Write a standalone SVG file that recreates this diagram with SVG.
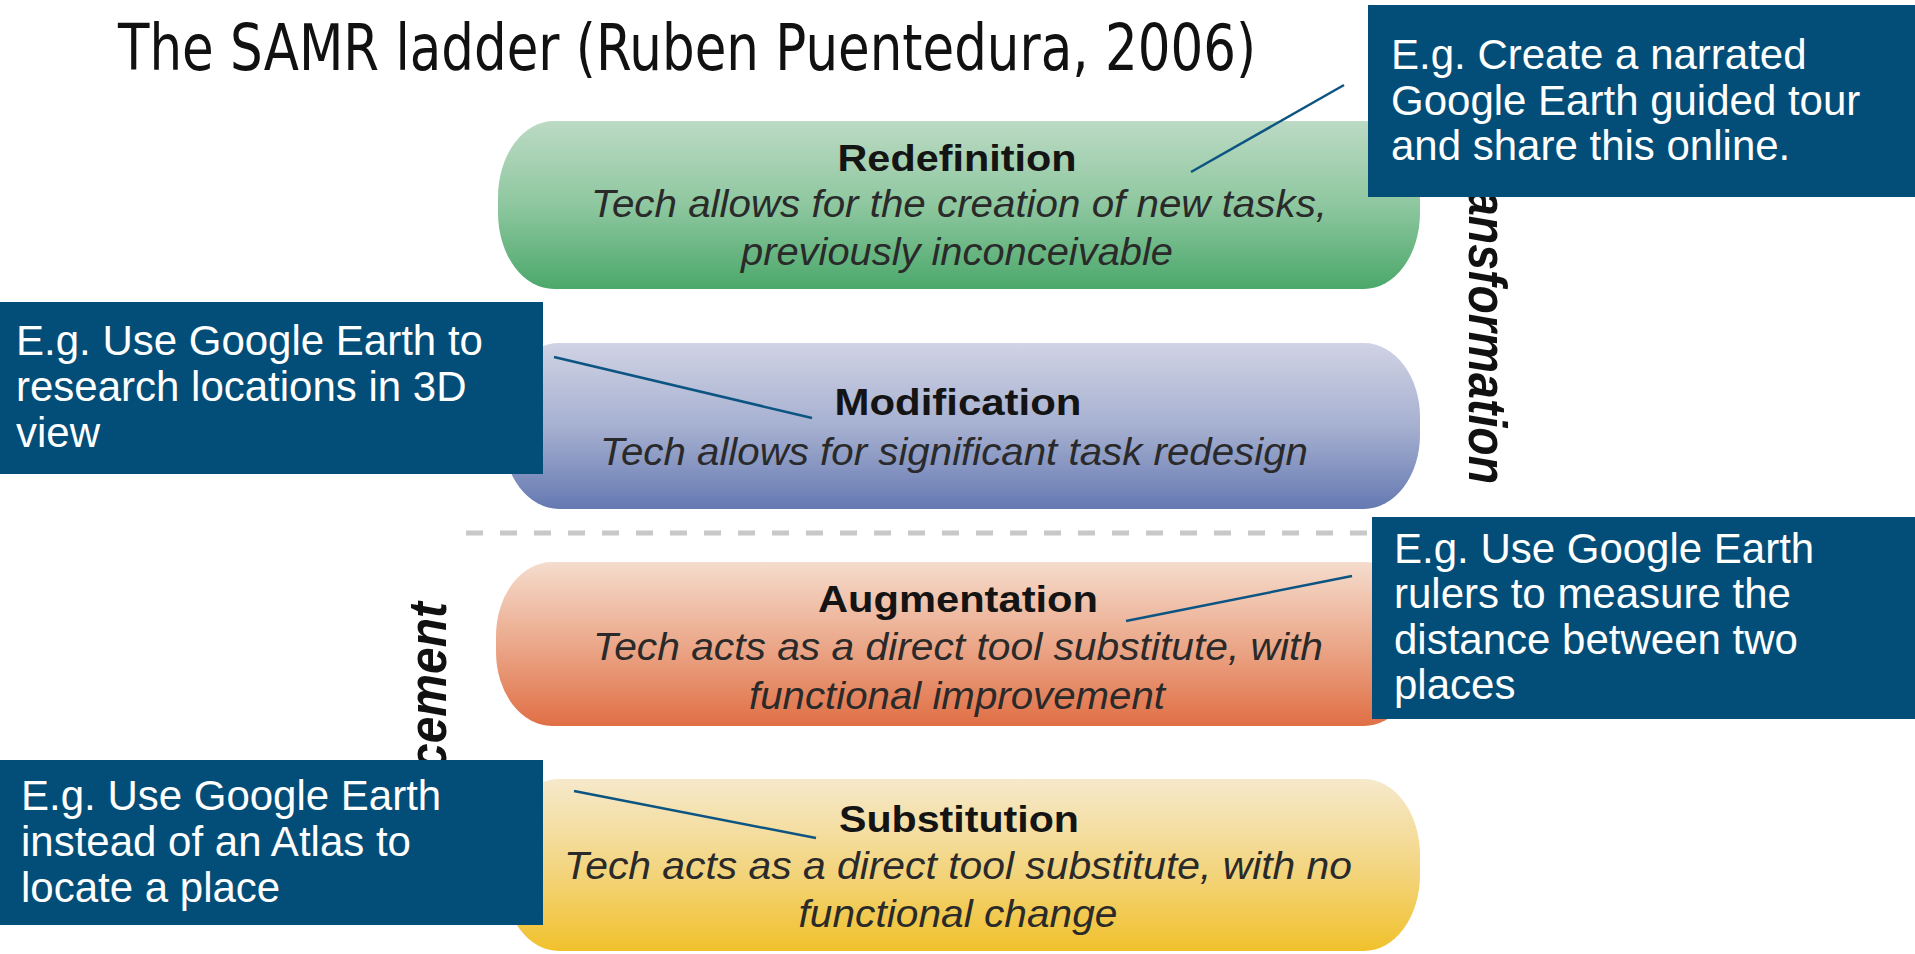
<svg xmlns="http://www.w3.org/2000/svg" width="1915" height="954" viewBox="0 0 1915 954">
<defs>
<linearGradient id="gGreen" x1="0" y1="0" x2="0" y2="1">
<stop offset="0" stop-color="#bcdac4"/><stop offset="0.5" stop-color="#8ec79f"/><stop offset="1" stop-color="#4ba86b"/>
</linearGradient>
<linearGradient id="gBlue" x1="0" y1="0" x2="0" y2="1">
<stop offset="0" stop-color="#d0d3e4"/><stop offset="0.5" stop-color="#a6b0d0"/><stop offset="1" stop-color="#6579b2"/>
</linearGradient>
<linearGradient id="gOrange" x1="0" y1="0" x2="0" y2="1">
<stop offset="0" stop-color="#f5dccd"/><stop offset="0.5" stop-color="#eba88a"/><stop offset="1" stop-color="#e06f45"/>
</linearGradient>
<linearGradient id="gYellow" x1="0" y1="0" x2="0" y2="1">
<stop offset="0" stop-color="#f6e9cc"/><stop offset="0.5" stop-color="#f3d684"/><stop offset="1" stop-color="#f1c12c"/>
</linearGradient>
<style>
.title{font-family:"DejaVu Sans","Liberation Sans",sans-serif;font-size:54px;fill:#111}
.ph{font-family:"Liberation Sans",Arial,sans-serif;font-weight:bold;font-size:37px;fill:#141414;text-anchor:middle}
.ps{font-family:"Liberation Sans",Arial,sans-serif;font-style:italic;font-size:39px;fill:#2a2a2a;text-anchor:middle}
.vt{font-family:"Liberation Sans",Arial,sans-serif;font-style:italic;font-weight:bold;font-size:54px;fill:#111}
.box{fill:#034e78}
.bt{font-family:"Liberation Sans",Arial,sans-serif;font-size:42px;fill:#ffffff}
.con{stroke:#0c5482;stroke-width:2.5;fill:none}
</style>
</defs>
<rect x="0" y="0" width="1915" height="954" fill="#ffffff"/>

<text class="title" transform="translate(118,70) scale(1,1.18)" x="0" y="0" textLength="1138" lengthAdjust="spacingAndGlyphs">The SAMR ladder (Ruben Puentedura, 2006)</text>

<g id="redefinition">
<rect x="498" y="121" width="922" height="168" rx="56" ry="76" fill="url(#gGreen)"/>
<text class="ph" x="957" y="171" textLength="239" lengthAdjust="spacingAndGlyphs">Redefinition</text>
<text class="ps" x="959" y="217" textLength="736" lengthAdjust="spacingAndGlyphs">Tech allows for the creation of new tasks,</text>
<text class="ps" x="957" y="265" textLength="432" lengthAdjust="spacingAndGlyphs">previously inconceivable</text>
</g>

<g id="modification">
<rect x="503" y="343" width="917" height="166" rx="56" ry="74" fill="url(#gBlue)"/>
<text class="ph" x="958" y="415" textLength="247" lengthAdjust="spacingAndGlyphs">Modification</text>
<text class="ps" x="954" y="465" textLength="708" lengthAdjust="spacingAndGlyphs">Tech allows for significant task redesign</text>
</g>

<g id="divider">
<line x1="466" y1="533" x2="1380" y2="533" stroke="#c8c8c8" stroke-width="5" stroke-dasharray="17 17"/>
</g>

<g id="augmentation">
<rect x="496" y="562" width="924" height="164" rx="56" ry="74" fill="url(#gOrange)"/>
<text class="ph" x="958" y="612" textLength="280" lengthAdjust="spacingAndGlyphs">Augmentation</text>
<text class="ps" x="958" y="660" textLength="730" lengthAdjust="spacingAndGlyphs">Tech acts as a direct tool substitute, with</text>
<text class="ps" x="957" y="709" textLength="416" lengthAdjust="spacingAndGlyphs">functional improvement</text>
</g>

<g id="substitution">
<rect x="503" y="779" width="917" height="172" rx="56" ry="76" fill="url(#gYellow)"/>
<text class="ph" x="959" y="832" textLength="240" lengthAdjust="spacingAndGlyphs">Substitution</text>
<text class="ps" x="958" y="879" textLength="788" lengthAdjust="spacingAndGlyphs">Tech acts as a direct tool substitute, with no</text>
<text class="ps" x="958" y="927" textLength="319" lengthAdjust="spacingAndGlyphs">functional change</text>
</g>

<g id="transformation-label">
<text class="vt" transform="translate(1469,190) rotate(90)" textLength="294" lengthAdjust="spacingAndGlyphs">ansformation</text>
</g>
<g id="enhancement-label">
<text class="vt" transform="translate(446,770) rotate(-90)" textLength="168" lengthAdjust="spacingAndGlyphs">cement</text>
</g>

<g id="connectors">
<line class="con" x1="1344" y1="85" x2="1191" y2="172"/>
<line class="con" x1="554" y1="357" x2="812" y2="418"/>
<line class="con" x1="1352" y1="576" x2="1126" y2="621"/>
<line class="con" x1="574" y1="791" x2="816" y2="838"/>
</g>

<g id="callout-redefinition">
<rect class="box" x="1368" y="5" width="547" height="192"/>
<text class="bt" x="1391" y="69">E.g. Create a narrated</text>
<text class="bt" x="1391" y="115">Google Earth guided tour</text>
<text class="bt" x="1391" y="160">and share this online.</text>
</g>

<g id="callout-modification">
<rect class="box" x="0" y="302" width="543" height="172"/>
<text class="bt" x="16" y="355">E.g. Use Google Earth to</text>
<text class="bt" x="16" y="401">research locations in 3D</text>
<text class="bt" x="16" y="447">view</text>
</g>

<g id="callout-augmentation">
<rect class="box" x="1372" y="517" width="543" height="202"/>
<text class="bt" x="1394" y="563">E.g. Use Google Earth</text>
<text class="bt" x="1394" y="608">rulers to measure the</text>
<text class="bt" x="1394" y="654">distance between two</text>
<text class="bt" x="1394" y="699">places</text>
</g>

<g id="callout-substitution">
<rect class="box" x="0" y="760" width="543" height="165"/>
<text class="bt" x="21" y="810">E.g. Use Google Earth</text>
<text class="bt" x="21" y="856">instead of an Atlas to</text>
<text class="bt" x="21" y="902">locate a place</text>
</g>
</svg>
